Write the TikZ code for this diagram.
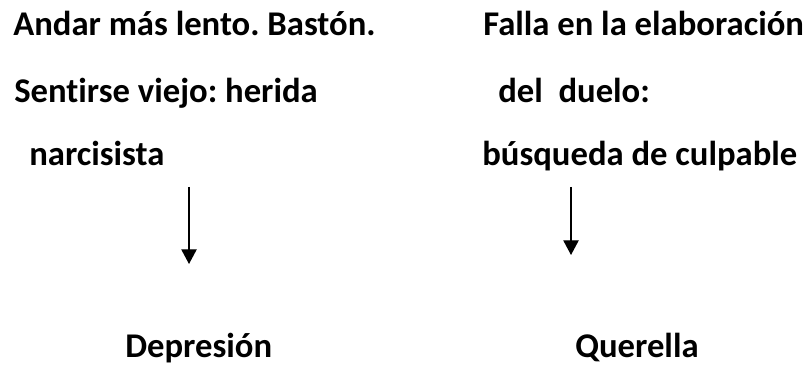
\documentclass[tikz,border=0pt]{standalone}
\usepackage{fontspec}
\setmainfont{Carlito}[Ligatures=NoCommon]
\frenchspacing
\usetikzlibrary{arrows.meta}

\tikzset{
  txt/.style={font=\fontsize{26}{30}\selectfont\bfseries, text=black, inner sep=0pt, anchor=base west},
  flecha/.style={black, line width=1pt, -{Triangle[width=11.5pt, length=11pt]}}
}

\begin{document}
\begin{tikzpicture}[x=0.75pt, y=-0.75pt]
  \useasboundingbox (0,0) rectangle (812,366);
  % columna izquierda
  \node[txt] (l1) at (13,36) {Andar más lento. Bastón.};
  \node[txt] (l2) at (14,103) {Sentirse viejo: herida};
  \node[txt] (l3) at (29,166) {narcisista};
  % columna derecha
  \node[txt] (r1) at (483,36) {Falla en la elaboración};
  \node[txt] (r2) at (498,103) {del\ \ duelo:};
  \node[txt] (r3) at (482,166) {búsqueda de culpable};
  % resultados
  \node[txt] (dep) at (125,357) {Depresión};
  \node[txt] (que) at (575,357) {Querella};
  % flechas
  \coordinate (a1) at (189,187);
  \coordinate (b1) at (189,264);
  \coordinate (a2) at (571,187);
  \coordinate (b2) at (571,255);
  \draw[flecha] (a1) -- (b1);
  \draw[flecha] (a2) -- (b2);
\end{tikzpicture}
\end{document}
